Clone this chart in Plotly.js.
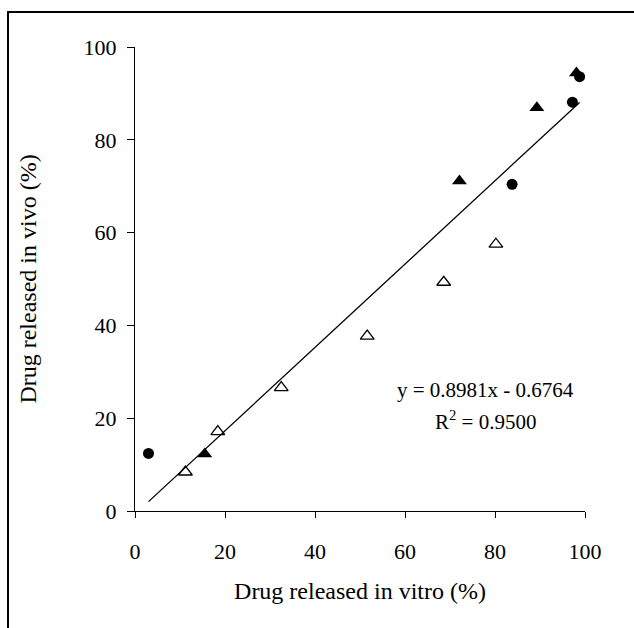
<!DOCTYPE html>
<html>
<head>
<meta charset="utf-8">
<script src="https://cdn.plot.ly/plotly-3.0.1.min.js"></script>
<style>
  html, body { margin: 0; padding: 0; background: #fff; }
  #wrap { position: relative; width: 634px; height: 628px; }
  #chart { position: absolute; left: 0; top: 0; width: 634px; height: 628px; }
  #frame { position: absolute; left: 7px; top: 11px; width: 640px; height: 640px;
           border-top: 2px solid #000; border-left: 2px solid #000; pointer-events: none; }
</style>
</head>
<body>
<div id="wrap">
  <div id="chart"></div>
  <div id="frame"></div>
</div>
<script>
// Filled circles
const circleX = [3.0, 83.8, 97.2, 98.8];
const circleY = [12.4, 70.4, 88.1, 93.6];
// Filled triangles
const triX = [15.5, 72.1, 89.3, 98.1];
const triY = [12.3, 71.1, 86.9, 94.4];
// Open triangles
const openX = [11.2, 18.4, 32.5, 51.6, 68.6, 80.2];
const openY = [8.4, 17.1, 26.6, 37.7, 49.3, 57.5];
// Linear fit reported on the chart
const slope = 0.8981;
const intercept = -0.6764;
const rSquared = '0.9500';
const trendRange = [3.0, 98.8];
const tickVals = [0, 20, 40, 60, 80, 100];

const serif = '"Liberation Serif", "Times New Roman", serif';

const traces = [
  {
    x: trendRange, y: trendRange.map(v => slope * v + intercept),
    mode: 'lines', type: 'scatter',
    line: { color: '#000', width: 1.3 }, hoverinfo: 'skip', showlegend: false
  },
  {
    x: openX, y: openY, mode: 'markers', type: 'scatter',
    marker: { symbol: 'triangle-up-open', size: 12, color: '#000', line: { color: '#000', width: 1.3 } },
    showlegend: false
  },
  {
    x: triX, y: triY, mode: 'markers', type: 'scatter',
    marker: { symbol: 'triangle-up', size: 13, color: '#000' },
    showlegend: false
  },
  {
    x: circleX, y: circleY, mode: 'markers', type: 'scatter',
    marker: { symbol: 'circle', size: 11, color: '#000' },
    showlegend: false
  }
];

const layout = {
  width: 634, height: 628,
  margin: { l: 135, r: 49, t: 46.5, b: 117 },
  paper_bgcolor: '#fff', plot_bgcolor: '#fff',
  font: { family: serif, color: '#000', size: 22 },
  showlegend: false,
  xaxis: {
    range: [0, 100], tickvals: tickVals, ticktext: tickVals.map(String),
    showline: true, linecolor: '#000', linewidth: 1,
    ticks: 'outside', ticklen: 6, tickwidth: 1, tickcolor: '#000',
    showgrid: false, zeroline: false,
    tickfont: { family: serif, size: 22, color: '#000' },
    ticklabelstandoff: 15,
    title: { text: 'Drug released in vitro (%)', font: { family: serif, size: 24, color: '#000' }, standoff: 18 }
  },
  yaxis: {
    range: [0, 100], tickvals: tickVals, ticktext: tickVals.map(String),
    showline: true, linecolor: '#000', linewidth: 1,
    ticks: 'outside', ticklen: 7, tickwidth: 1, tickcolor: '#000',
    showgrid: false, zeroline: false,
    tickfont: { family: serif, size: 22, color: '#000' },
    ticklabelstandoff: 6,
    title: { text: 'Drug released in vivo (%)', font: { family: serif, size: 24, color: '#000' }, standoff: 40 }
  },
  annotations: [
    {
      xref: 'x', yref: 'y', x: 77.8, y: 26.0, showarrow: false, yanchor: 'middle',
      text: 'y = ' + slope.toFixed(4) + 'x - ' + Math.abs(intercept).toFixed(4),
      font: { family: serif, size: 21, color: '#000' }
    },
    {
      xref: 'x', yref: 'y', x: 77.8, y: 19.6, showarrow: false, yanchor: 'middle',
      text: 'R<sup>2</sup> = ' + rSquared,
      font: { family: serif, size: 21, color: '#000' }
    }
  ]
};

Plotly.newPlot('chart', traces, layout, { displayModeBar: false, staticPlot: true });
</script>
</body>
</html>
